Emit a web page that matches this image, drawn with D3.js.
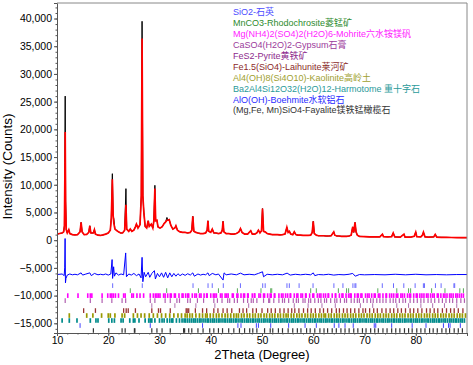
<!DOCTYPE html>
<html><head><meta charset="utf-8">
<script src="https://cdn.jsdelivr.net/npm/d3@7"></script>
<style>body{margin:0;background:#fff}svg{display:block}</style>
</head><body><svg id="c" width="473" height="365"></svg>
<script>
// ---------- data ----------
const xTicks = [10,20,30,40,50,60,70,80];
const yTicks = [-15000,-10000,-5000,0,5000,10000,15000,20000,25000,30000,35000,40000];

// observed pattern [2theta, counts]
const observed = [[10,1100],[10.5,1200],[11.0,1300],[11.3,1500],[11.45,2600],[11.53,14000],[11.6,26000],[11.68,7000],[11.8,1900],[12.0,1300],[12.3,1900],[12.5,1200],[13,1000],[13.5,950],[14.0,1000],[14.5,1500],[14.7,3200],[14.9,1500],[15.3,1000],[15.8,1050],[16.2,1400],[16.4,2600],[16.6,1300],[17.1,1300],[17.3,1900],[17.5,1100],[18,900],[18.5,850],[19,950],[19.5,1100],[20.0,1300],[20.4,1800],[20.6,4000],[20.8,12000],[20.95,4500],[21.1,3800],[21.3,2000],[21.7,1700],[22.0,1500],[22.4,1300],[22.8,1300],[23.2,1800],[23.45,9300],[23.6,2000],[24.0,1600],[24.3,2000],[24.6,1600],[25.0,1800],[25.3,2400],[25.5,2900],[25.8,2200],[26.2,2800],[26.45,8000],[26.6,39500],[26.75,8000],[26.95,5000],[27.2,2500],[27.5,2200],[27.8,3500],[28.0,2500],[28.4,2900],[28.7,2200],[28.9,3500],[29.1,9900],[29.25,3500],[29.5,3600],[29.7,2400],[30.1,2200],[30.5,2400],[30.9,3000],[31.2,3300],[31.45,4100],[31.65,3600],[31.9,3700],[32.2,2700],[32.6,2000],[33.0,2200],[33.2,2600],[33.5,1800],[34,1500],[34.5,1400],[35,1400],[35.5,1300],[36.0,1400],[36.3,1800],[36.5,4300],[36.7,1600],[37.1,1400],[37.5,1300],[38,1200],[38.5,1200],[39.0,1300],[39.3,1800],[39.45,3500],[39.6,1600],[40.0,1400],[40.3,2000],[40.6,1300],[41,1300],[41.5,1200],[42.0,1300],[42.25,1800],[42.4,3400],[42.55,1500],[43,1200],[43.5,1200],[44,1100],[44.5,1100],[45.0,1200],[45.5,1500],[45.8,2100],[46.1,1400],[46.6,1100],[47.2,1100],[47.8,1700],[48.1,1100],[48.6,1100],[49.0,1300],[49.3,1800],[49.6,1300],[49.9,1700],[50.1,5700],[50.3,1600],[50.6,1500],[51,1200],[51.5,1100],[52,1000],[52.5,1000],[53,1000],[53.5,950],[54,1000],[54.5,1100],[54.85,2300],[55.1,1400],[55.35,1600],[55.6,1100],[56.0,1000],[56.3,1500],[56.6,1000],[57,900],[57.5,900],[58,850],[58.5,850],[59,850],[59.5,900],[59.8,1400],[60.0,3400],[60.2,1200],[60.6,900],[61,800],[61.5,800],[62,800],[62.5,750],[63,750],[63.5,800],[64.0,1500],[64.2,900],[64.6,750],[65,750],[65.5,700],[66,700],[66.5,700],[67,750],[67.4,900],[67.7,2400],[67.9,1400],[68.15,3200],[68.35,1500],[68.6,900],[69,700],[70,650],[71,600],[72,600],[73,600],[73.5,1080],[73.7,650],[74.5,600],[75.3,650],[75.6,1300],[75.9,600],[77,550],[77.7,1080],[77.9,550],[79,550],[79.7,700],[80.0,1440],[80.2,650],[81,600],[81.3,900],[81.5,1440],[81.8,600],[82.5,550],[83.5,600],[83.8,1030],[84.1,550],[85,520],[86,500],[87,480],[88,470],[89,450],[90,450]];

// calculated pattern: peak tops that differ from observed
const calcTopPos = [11.6, 11.53, 20.8, 23.45, 26.6, 29.1, 31.45, 21.1];
const calcTopVal = [19500, 11000, 11000, 6400, 36400, 9300, 3600, 3000];

// difference curve (offset)
const difference = [[10,-6200],[11.0,-6100],[11.4,-6400],[11.5,-5000],[11.58,300],[11.65,-7700],[11.75,-6900],[12,-6300],[12.5,-6100],[13,-6250],[13.5,-6150],[14,-6250],[14.7,-5900],[15,-6300],[15.5,-6150],[16.4,-5900],[16.7,-6400],[17.3,-6000],[18,-6250],[18.5,-6150],[19,-6250],[19.5,-6100],[20,-6300],[20.5,-6100],[20.75,-3500],[20.85,-6900],[21.05,-4800],[21.2,-6500],[21.5,-5900],[22,-6300],[22.5,-6100],[23,-6250],[23.4,-2300],[23.55,-6600],[24,-6100],[24.5,-6300],[25,-6000],[25.5,-6400],[26,-6100],[26.4,-6800],[26.6,-3100],[26.75,-7500],[27.0,-5800],[27.3,-6600],[27.8,-5800],[28.1,-6700],[28.5,-6000],[29.0,-5500],[29.2,-7000],[29.6,-6000],[30,-6600],[30.4,-5900],[30.8,-6700],[31.2,-5800],[31.6,-6800],[32,-5900],[32.4,-6600],[32.8,-6000],[33.2,-6500],[33.6,-6050],[34,-6400],[34.5,-6100],[35,-6350],[35.5,-6050],[36,-6300],[36.5,-5900],[36.8,-6500],[37.5,-6100],[38,-6300],[38.5,-6150],[39,-6250],[39.45,-5900],[39.7,-6400],[40.3,-6000],[41,-6250],[41.5,-6100],[42.4,-7200],[42.6,-5900],[43,-6250],[44,-6100],[45,-6250],[45.8,-5950],[46.5,-6250],[47.5,-6150],[48.5,-6250],[49.3,-6000],[50.1,-5700],[50.3,-6600],[51,-6150],[52,-6250],[53,-6150],[54,-6250],[54.9,-5950],[55.5,-6300],[56.5,-6150],[57.5,-6250],[58.5,-6150],[59.5,-6250],[60,-5900],[60.3,-6400],[61,-6200],[62,-6250],[63,-6150],[64,-6300],[65,-6200],[66,-6250],[67,-6150],[67.7,-6000],[68.2,-6500],[69,-6200],[70,-6250],[72,-6200],[74,-6250],[76,-6150],[78,-6250],[80,-6150],[82,-6250],[84,-6200],[86,-6250],[88,-6200],[90,-6200]];

// phases
const phaseNames = ["SiO2-石英","MnCO3-Rhodochrosite菱锰矿","Mg(NH4)2(SO4)2(H2O)6-Mohrite六水铵镁矾","CaSO4(H2O)2-Gypsum石膏","FeS2-Pyrite黄铁矿","Fe1.5(SiO4)-Laihunite莱河矿","Al4(OH)8(Si4O10)-Kaolinite高岭土","Ba2Al4Si12O32(H2O)12-Harmotome 重十字石","AlO(OH)-Boehmite水软铝石","(Mg,Fe, Mn)SiO4-Fayalite镁铁锰橄榄石"];
const phaseOffsets = [-8200,-9100,-10000,-10900,-11800,-12700,-13600,-14500,-15400,-16300];

const ticksQuartz = [20.86,26.64,36.54,39.47,40.29,42.45,45.79,50.14,50.62,54.87,55.33,57.24,59.96,64.03,65.79,67.74,68.14,68.32,73.47,75.66,77.67,79.88,81.49,81.7,83.84,84.95,87.45,87.6];
const ticksRhodo = [24.3,31.4,37.6,41.5,45.2,49.8,51.7,51.9,59.5,60.6,64.9,66.5,66.9,72.6,76.3,78.6,79.0,83.1,85.7,88.6,89.3];
const ticksMohrite = [12.1,14.1,16.0,16.5,16.8,18.8,19.9,20.4,20.7,21.0,21.4,22.0,23.0,23.3,24.6,24.9,25.6,26.2,26.9,28.2,28.8,29.2,29.5,29.8,30.1,30.8,31.1,31.6,32.1,32.3,32.9,33.1,33.8,34.4,34.6,35.1,35.5,35.7,36.4,36.9,37.2,37.8,38.1,38.7,39.2,39.3,40.0,40.5,40.8,41.1,41.9,42.2,42.8,43.1,43.4,44.2,44.4,45.1,45.3,45.9,46.4,46.6,47.2,47.3,48.1,48.5,48.6,49.4,49.7,50.3,50.5,51.1,51.6,51.8,52.4,52.5,53.3,53.8,54.1,54.6,55.0,55.5,55.6,56.3,56.8,57.0,57.6,57.9,58.5,58.6,59.3,59.9,60.1,60.8,61.2,61.5,62.0,62.4,62.9,63.0,63.7,64.3,64.4,65.1,65.6,65.8,66.4,66.9,67.2,67.4,68.1,68.6,68.8,69.3,69.5,70.2,70.6,70.9,71.4,71.9,72.1,72.7,73.0,73.6,74.2,74.3,74.9,75.3,75.7,76.2,76.5,77.1,77.4,77.8,78.4,78.8,79.0,79.6,80.1,80.3,80.8,81.2,81.6,82.1,82.4,82.9,83.3,83.6,84.2,84.4,84.9,85.4,85.7,86.1,86.6,86.9,87.3,87.8,88.1,88.5,88.9,89.3];
const ticksGypsum = [11.6,16.5,18.8,20.7,22.7,23.4,28.2,29.1,31.1,32.1,33.4,33.9,35.5,36.0,37.4,38.6,40.6,41.3,42.2,43.3,43.7,44.6,45.2,46.4,47.2,47.9,48.3,49.0,50.3,51.3,51.5,52.3,53.3,54.0,54.4,55.2,56.1,56.7,57.1,58.0,58.4,59.1,59.5,60.3,61.0,61.5,62.2,62.6,63.4,64.2,64.6,65.3,66.1,66.5,67.4,68.0,68.6,69.0,69.8,70.5,71.2,71.7,72.4,73.0,73.6,74.2,75.0,75.6,76.1,76.8,77.5,78.0,78.9,79.6,80.3,81.0,81.6,82.4,83.0,83.7,84.5,85.2,85.9,86.6,87.2,88.0,88.8,89.5];
const ticksPyrite = [28.5,33.0,37.1,40.8,47.4,56.3,59.0,61.7,64.3,69.2,71.6,76.3,78.6,81.0,83.3,85.6,88.0];
const ticksLaihunite = [15.2,17.5,23.0,23.5,23.9,25.3,28.5,29.8,30.2,32.1,35.2,35.4,35.7,37.0,38.4,39.2,40.6,41.4,42.4,43.2,44.1,45.6,46.3,47.0,48.2,48.9,50.0,51.1,51.8,52.6,53.5,54.3,55.1,55.8,56.4,57.2,58.1,58.9,59.6,60.4,61.3,62.0,62.8,63.6,64.5,65.1,65.9,66.6,67.3,68.1,68.9,69.7,70.2,71.0,71.8,72.5,73.4,74.2,75.0,75.7,76.5,77.2,78.0,78.9,79.6,80.4,81.2,82.1,82.8,83.6,84.3,85.2,86.0,86.8,87.5,88.3,89.2];
const ticksKaolinite = [12.4,15.8,17.0,18.7,20.0,20.4,21.3,22.7,23.2,24.9,25.7,26.4,27.1,28.0,28.8,29.6,30.4,31.2,32.0,32.8,33.6,34.3,35.0,35.4,35.9,36.4,37.1,37.8,38.4,39.0,39.3,39.9,40.5,41.1,41.6,42.2,42.8,43.3,43.9,44.5,45.0,45.4,46.0,46.5,47.1,47.6,48.2,48.7,49.3,49.8,50.4,50.9,51.5,52.0,52.5,53.1,53.6,54.2,54.7,55.1,55.7,56.2,56.8,57.3,57.8,58.4,58.9,59.5,60.0,60.5,61.1,61.6,62.1,62.4,63.0,63.5,64.1,64.6,65.1,65.7,66.2,66.7,67.3,67.8,68.3,68.9,69.4,69.9,70.5,71.0,71.5,72.1,72.6,73.1,73.7,74.2,74.7,75.3,75.8,76.3,76.9,77.4,77.9,78.5,79.0,79.5,80.1,80.6,81.1,81.7,82.2,82.7,83.3,83.8,84.3,84.9,85.4,85.9,86.5,87.0,87.5,88.1,88.6,89.1,89.7];
const ticksHarmotome = [11.0,12.4,13.9,16.5,17.6,18.0,20.1,20.7,21.2,22.5,22.9,24.2,24.9,25.2,26.0,27.2,27.9,28.2,28.5,29.1,30.0,30.5,30.9,31.5,32.0,32.4,32.6,33.3,33.9,34.4,34.8,35.1,35.5,35.9,36.3,36.7,37.0,37.4,37.8,38.1,38.5,38.9,39.3,39.6,40.0,40.4,40.7,41.1,41.5,41.8,42.2,42.6,42.9,43.3,43.7,44.0,44.4,44.8,45.1,45.5,45.9,46.2,46.6,47.0,47.3,47.7,48.1,48.4,48.8,49.2,49.5,49.9,50.3,50.6,51.0,51.4,51.7,52.1,52.5,52.8,53.2,53.6,53.9,54.3,54.7,55.0,55.4,55.8,56.1,56.5,56.9,57.2,57.6,58.0,58.3,58.7,59.1,59.4,59.8,60.2,60.5,60.9,61.3,61.6,62.0,62.4,62.7,63.1,63.5,63.8,64.2,64.6,64.9,65.3,65.7,66.0,66.4,66.8,67.1,67.5,67.9,68.2,68.6,69.0,69.3,69.7,70.1,70.4,70.8,71.2,71.5,71.9,72.3,72.6,73.0,73.4,73.7,74.1,74.5,74.8,75.2,75.6,75.9,76.3,76.7,77.0,77.4,77.8,78.1,78.5,78.9,79.2,79.6,80.0,80.3,80.7,81.1,81.4,81.8,82.2,82.5,82.9,83.3,83.6,84.0,84.4,84.7,85.1,85.5,85.8,86.2,86.6,86.9,87.3,87.7,88.0,88.4,88.8,89.1,89.5];
const ticksBoehmite = [14.5,28.2,38.4,45.3,45.9,48.9,49.3,51.7,55.2,58.4,60.6,64.1,65.0,66.2,67.8,71.9,72.2,75.3,79.3,82.0,85.4,86.4,86.7,88.7];
const ticksFayalite = [17.1,20.1,22.7,23.3,25.1,25.2,28.5,29.5,30.5,32.1,34.7,34.9,35.7,36.3,37.5,38.5,39.8,40.6,41.5,42.3,43.5,44.5,45.6,46.6,47.6,48.2,49.0,50.5,51.6,52.1,53.2,54.0,55.1,56.0,56.9,57.6,58.7,59.4,60.3,61.3,62.1,62.8,63.7,64.5,65.4,66.2,67.0,67.9,68.7,69.6,70.3,71.2,72.0,72.7,73.6,74.4,75.3,76.1,76.9,77.8,78.6,79.3,80.2,81.0,81.8,82.7,83.4,84.2,85.1,85.9,86.6,87.5,88.3,89.1];
const phaseTicks = [ticksQuartz,ticksRhodo,ticksMohrite,ticksGypsum,ticksPyrite,ticksLaihunite,ticksKaolinite,ticksHarmotome,ticksBoehmite,ticksFayalite];

// styles
const legendColors = ["#4b4bff","#2e8b2e","#ff22ff","#9b3a9b","#8e2a8e","#8b2a2a","#a0a030","#2a9a9a","#2a2aff","#333333"];
const tickColors   = ["#6a6aff","#5aaa5a","#ff00ff","#b060b0","#b070b0","#993333","#999900","#008b8b","#4040ff","#333333"];
const tickWidths   = [1, 1, 1.6, 1.2, 1, 1.3, 1.7, 1.7, 1, 1.2];

// ---------- drawing ----------
const svg = d3.select("#c");
const mL = 57, mR = 467, mT = 3, mB = 333;
const x = d3.scaleLinear().domain([10, 90]).range([mL, mR]);
const y = d3.scaleLinear().domain([-16750, 42800]).range([mB, mT]);

svg.append("clipPath").attr("id","clp").append("rect")
  .attr("x", mL).attr("y", mT).attr("width", mR-mL).attr("height", mB-mT);

const g = svg.append("g").attr("clip-path","url(#clp)");
const line = d3.line().x(d => x(d[0])).y(d => y(d[1]));

// calc series: observed points with the calc peak tops substituted
const calculated = observed.map(d => {
  const i = calcTopPos.indexOf(d[0]);
  return i >= 0 ? [d[0], calcTopVal[i]] : d;
});

g.append("path").datum(observed).attr("d", line)
  .attr("fill","none").attr("stroke","#000").attr("stroke-width",1);
g.append("path").datum(calculated).attr("d", line)
  .attr("fill","none").attr("stroke","#ff0000").attr("stroke-width",1.7);
g.append("path").datum(difference).attr("d", line)
  .attr("fill","none").attr("stroke","#0000ff").attr("stroke-width",1);

phaseTicks.forEach((arr, i) => {
  const off = phaseOffsets[i];
  g.append("g").selectAll("line").data(arr).join("line")
    .attr("x1", d => x(d)).attr("x2", d => x(d))
    .attr("y1", y(off + 420)).attr("y2", y(off - 420))
    .attr("stroke", tickColors[i]).attr("stroke-width", tickWidths[i]);
});

// axes
const font = "'Liberation Sans', Arial, sans-serif";
const yMinor = d3.range(-16000, 42001, 1000);
const xMinor = d3.range(10, 90.01, 2);

svg.append("g").attr("transform", `translate(${mL},0)`)
  .call(d3.axisLeft(y).tickValues(yTicks).tickFormat(d3.format(",")).tickSize(3).tickPadding(2));
svg.append("g").attr("transform", `translate(${mL},0)`)
  .call(d3.axisLeft(y).tickValues(yMinor).tickFormat("").tickSize(1.5))
  .call(s => s.select(".domain").remove());
svg.append("g").attr("transform", `translate(0,${mB})`)
  .call(d3.axisBottom(x).tickValues(xTicks).tickSize(3).tickPadding(1));
svg.append("g").attr("transform", `translate(0,${mB})`)
  .call(d3.axisBottom(x).tickValues(xMinor).tickFormat("").tickSize(1.5))
  .call(s => s.select(".domain").remove());

svg.selectAll(".tick text").attr("font-family", font).attr("font-size", 10.5).attr("fill","#000");
svg.selectAll(".domain").attr("stroke","#555");
svg.selectAll(".tick line").attr("stroke","#555");

// frame
svg.append("path").attr("d", `M${mL},${mT}H${mR}V${mB}`)
  .attr("fill","none").attr("stroke","#888").attr("stroke-width",1);

// titles
svg.append("text").attr("x", (mL+mR)/2).attr("y", 358.5)
  .attr("text-anchor","middle").attr("font-family", font).attr("font-size", 13)
  .text("2Theta (Degree)");
svg.append("text").attr("transform", `translate(11.8,166.5) rotate(-90)`)
  .attr("text-anchor","middle").attr("font-family", font).attr("font-size", 13.5)
  .text("Intensity (Counts)");

// legend
const leg = svg.append("g").attr("font-size", 9)
  .attr("font-family", "'Liberation Sans', Arial, 'Noto Sans CJK SC', sans-serif");
phaseNames.forEach((n, i) => {
  leg.append("text").attr("x", 233).attr("y", 15.3 + i*10.9)
    .attr("fill", legendColors[i]).text(n);
});
</script></body></html>
